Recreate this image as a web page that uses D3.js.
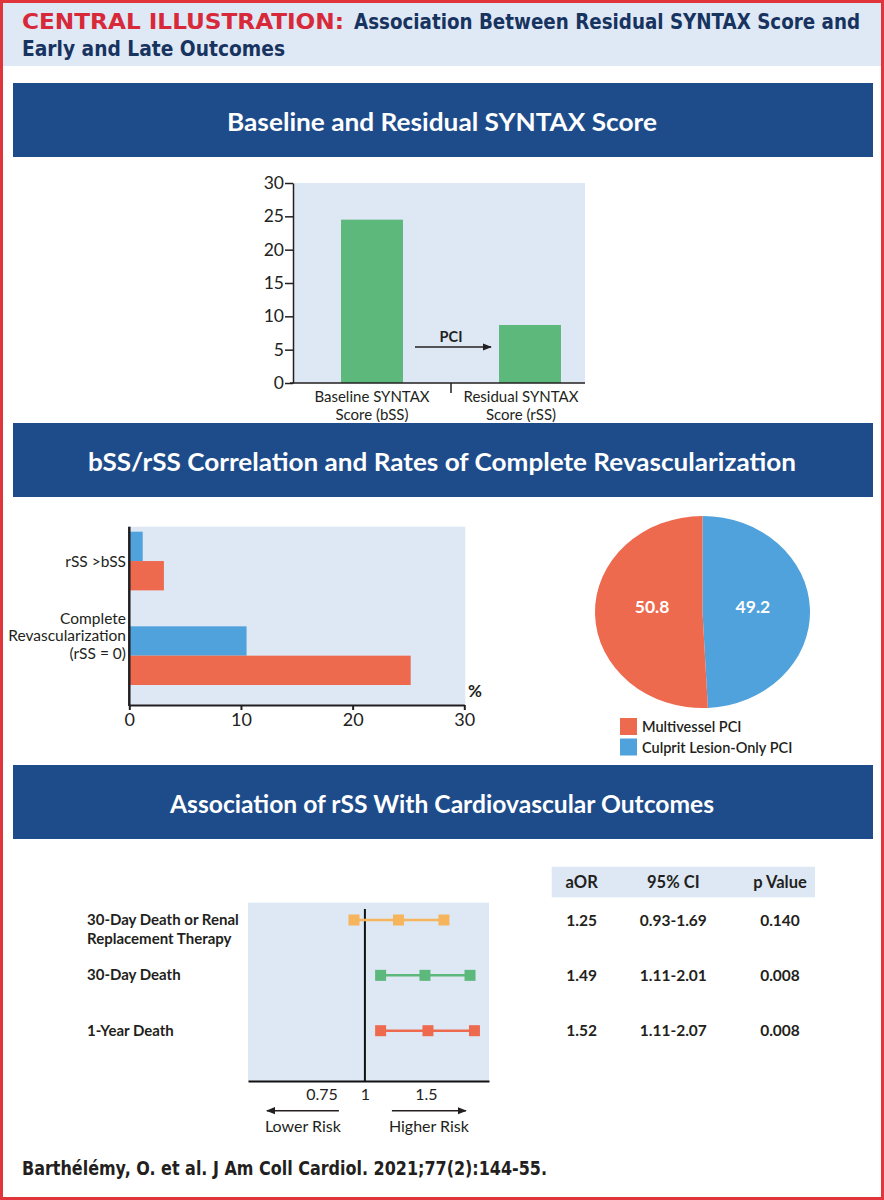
<!DOCTYPE html>
<html>
<head>
<meta charset="utf-8">
<script src="https://cdn.jsdelivr.net/npm/d3@7"></script>
<style>
  body { margin: 0; background: #fff; }
  svg { display: block; font-family: Lato, "Open Sans", sans-serif; }
  .axis text { font-family: Lato, sans-serif; fill: #222; }
</style>
</head>
<body>
<svg id="chart" width="884" height="1200"></svg>
<script>
// --- data ---
var scoreCats = ["Baseline SYNTAX Score (bSS)", "Residual SYNTAX Score (rSS)"];
var scoreLabels = [["Baseline SYNTAX", "Score (bSS)"], ["Residual SYNTAX", "Score (rSS)"]];
var scoreVals = [24.5, 8.7];
var scoreTicks = [0, 5, 10, 15, 20, 25, 30];

var revascCats = ["rSS >bSS", "Complete Revascularization (rSS = 0)"];
var revascLabels = [["rSS >bSS"], ["Complete", "Revascularization", "(rSS = 0)"]];
var culpritVals = [1.2, 10.5];
var multiVals = [3.1, 25.2];
var revascTicks = [0, 10, 20, 30];

var pieNames = ["Culprit Lesion-Only PCI", "Multivessel PCI"];
var pieVals = [49.2, 50.8];
var legendNames = ["Multivessel PCI", "Culprit Lesion-Only PCI"];

var outcomes = ["30-Day Death or Renal Replacement Therapy", "30-Day Death", "1-Year Death"];
var outcomeLabels = [["30-Day Death or Renal", "Replacement Therapy"], ["30-Day Death"], ["1-Year Death"]];
var aOR = [1.25, 1.49, 1.52];
var ciLow = [0.93, 1.11, 1.11];
var ciHigh = [1.69, 2.01, 2.07];
var ciText = ["0.93-1.69", "1.11-2.01", "1.11-2.07"];
var pVals = ["0.140", "0.008", "0.008"];
var forestTicks = [0.75, 1, 1.5];
var tableHeads = ["aOR", "95% CI", "p Value"];

var banners = ["Baseline and Residual SYNTAX Score",
    "bSS/rSS Correlation and Rates of Complete Revascularization",
    "Association of rSS With Cardiovascular Outcomes"];
var bannerW = [430, 708, 544];

// colours
var navy = "#1e4c8b", plotBg = "#dde8f4", green = "#5cb87b",
    blue = "#4fa2dc", red = "#ee6a4f", orange = "#f6b55c", ink = "#231f20";

var svg = d3.select("#chart");

// frame + header
svg.append("rect").attr("x", 1.5).attr("y", 1.5).attr("width", 881).attr("height", 1197)
    .attr("fill", "#fff").attr("stroke", "#e0353b").attr("stroke-width", 3);
svg.append("rect").attr("x", 3).attr("y", 3).attr("width", 878).attr("height", 63).attr("fill", "#dfe8f5");

var cond = '"DejaVu Sans Condensed", "Liberation Sans Narrow", sans-serif';
svg.append("text").attr("x", 22).attr("y", 28.5).attr("font-family", cond).attr("font-weight", "bold")
    .attr("font-size", 20.5).attr("fill", "#d8293a").attr("textLength", 322).attr("lengthAdjust", "spacingAndGlyphs")
    .text("CENTRAL ILLUSTRATION:");
svg.append("text").attr("x", 354).attr("y", 28.5).attr("font-family", cond).attr("font-weight", "bold")
    .attr("font-size", 20.5).attr("fill", "#17335f").attr("textLength", 506).attr("lengthAdjust", "spacingAndGlyphs")
    .text("Association Between Residual SYNTAX Score and");
svg.append("text").attr("x", 22).attr("y", 55.5).attr("font-family", cond).attr("font-weight", "bold")
    .attr("font-size", 20.5).attr("fill", "#17335f").attr("textLength", 263).attr("lengthAdjust", "spacingAndGlyphs")
    .text("Early and Late Outcomes");

// section banners
var bannerY = [83, 423, 765];
banners.forEach(function (t, i) {
    svg.append("rect").attr("x", 13).attr("y", bannerY[i]).attr("width", 860).attr("height", 74).attr("fill", navy);
    svg.append("text").attr("x", 442).attr("y", bannerY[i] + 48).attr("text-anchor", "middle")
        .attr("fill", "#fff").attr("font-weight", "bold").attr("font-size", 25)
        .attr("textLength", bannerW[i]).attr("lengthAdjust", "spacingAndGlyphs").text(t);
});

// --- panel 1: baseline vs residual score ---
var y1 = d3.scaleLinear().domain([0, 30]).range([383, 183]);
var x1 = d3.scaleBand().domain(scoreCats).range([293, 609]).paddingInner(0.608).paddingOuter(0.304);

svg.append("rect").attr("x", 293).attr("y", y1(30)).attr("width", 292).attr("height", y1(0) - y1(30)).attr("fill", plotBg);

svg.append("g").selectAll("rect").data(scoreVals).enter().append("rect")
    .attr("x", function (d, i) { return x1(scoreCats[i]); })
    .attr("y", function (d) { return y1(d); })
    .attr("width", x1.bandwidth())
    .attr("height", function (d) { return y1(0) - y1(d); })
    .attr("fill", green);

var ax1 = svg.append("g").attr("class", "axis").attr("transform", "translate(293,0)")
    .call(d3.axisLeft(y1).tickValues(scoreTicks).tickSize(8).tickSizeOuter(0).tickPadding(1));
ax1.selectAll("text").attr("font-size", 17.5);
ax1.selectAll("line, path").attr("stroke", ink).attr("stroke-width", 1.5);

var midX = x1(scoreCats[1]) - x1.step() * x1.paddingInner() / 2;
svg.append("line").attr("x1", 290).attr("x2", 585).attr("y1", y1(0)).attr("y2", y1(0)).attr("stroke", ink).attr("stroke-width", 1.5);
svg.append("line").attr("x1", midX).attr("x2", midX).attr("y1", y1(0)).attr("y2", y1(0) + 10).attr("stroke", ink).attr("stroke-width", 1.5);

scoreLabels.forEach(function (lines, i) {
    var t = svg.append("text").attr("text-anchor", "middle").attr("font-size", 15).attr("fill", ink);
    lines.forEach(function (l, j) {
        t.append("tspan").attr("x", x1(scoreCats[i]) + x1.bandwidth() / 2 - i * 9).attr("y", 402 + j * 17.5).text(l);
    });
});

// PCI arrow
svg.append("defs").append("marker").attr("id", "arr").attr("viewBox", "0 0 10 10").attr("refX", 9).attr("refY", 5)
    .attr("markerWidth", 6).attr("markerHeight", 6).attr("orient", "auto")
    .append("path").attr("d", "M0,1 L10,5 L0,9 z").attr("fill", ink);
svg.append("line").attr("x1", midX - 36).attr("x2", midX + 40).attr("y1", y1(5.4)).attr("y2", y1(5.4))
    .attr("stroke", ink).attr("stroke-width", 1.5).attr("marker-end", "url(#arr)");
svg.append("text").attr("x", midX).attr("y", y1(5.4) - 5).attr("text-anchor", "middle")
    .attr("font-weight", "bold").attr("font-size", 14.5).attr("fill", ink).text("PCI");

// --- panel 2: horizontal bars ---
var x2 = d3.scaleLinear().domain([0, 30]).range([129.3, 464.3]);
var y2 = d3.scaleBand().domain(revascCats).range([531.7, 685]).paddingInner(0.38);
var half = y2.bandwidth() / 2;

svg.append("rect").attr("x", x2(0)).attr("y", 526.7).attr("width", x2(30) - x2(0) + 1).attr("height", 705 - 526.7).attr("fill", plotBg);

svg.append("g").selectAll("rect").data(culpritVals).enter().append("rect")
    .attr("x", x2(0)).attr("y", function (d, i) { return y2(revascCats[i]); })
    .attr("width", function (d) { return x2(d) - x2(0); }).attr("height", half).attr("fill", blue);
svg.append("g").selectAll("rect").data(multiVals).enter().append("rect")
    .attr("x", x2(0)).attr("y", function (d, i) { return y2(revascCats[i]) + half; })
    .attr("width", function (d) { return x2(d) - x2(0); }).attr("height", half).attr("fill", red);

var ax2 = svg.append("g").attr("class", "axis").attr("transform", "translate(0,705)")
    .call(d3.axisBottom(x2).tickValues(revascTicks).tickSize(5).tickSizeOuter(0).tickPadding(3));
ax2.selectAll("text").attr("font-size", 18);
ax2.selectAll("line, path").attr("stroke", ink).attr("stroke-width", 2);
svg.append("line").attr("x1", x2(0)).attr("x2", x2(0)).attr("y1", 526.7).attr("y2", 706).attr("stroke", ink).attr("stroke-width", 2.5);
svg.append("text").attr("x", 468).attr("y", 697).attr("font-weight", "bold").attr("font-size", 17).attr("fill", ink).text("%");

svg.append("text").attr("x", 126).attr("y", y2(revascCats[0]) + half + 6)
    .attr("text-anchor", "end").attr("font-size", 15.5).attr("fill", ink).text(revascLabels[0][0]);
var rl1 = svg.append("text").attr("text-anchor", "end").attr("font-size", 15.5).attr("fill", ink);
revascLabels[1].forEach(function (l, j) {
    rl1.append("tspan").attr("x", 126).attr("y", y2(revascCats[1]) + half - 32 + j * 17.5).text(l);
});

// pie
var pie = d3.pie().sort(null).value(function (d) { return d; });
var arcs = pie(pieVals);
var R = 96, cx = 702.5, cy = 612, sx = 1.12;
var arc = d3.arc().innerRadius(0).outerRadius(R);
var pg = svg.append("g").attr("transform", "translate(" + cx + "," + cy + ") scale(" + sx + ",1)");
pg.selectAll("path").data(arcs).enter().append("path")
    .attr("d", arc).attr("fill", function (d, i) { return i === 0 ? blue : red; });
var lab = d3.arc().innerRadius(45).outerRadius(45);
svg.selectAll("text.pl").data(arcs).enter().append("text").attr("class", "pl")
    .attr("x", function (d) { return cx + lab.centroid(d)[0] * sx; })
    .attr("y", function (d) { return cy + 1; })
    .attr("text-anchor", "middle").attr("fill", "#fff").attr("font-weight", "bold").attr("font-size", 17.5)
    .text(function (d) { return d.data.toFixed(1); });

legendNames.forEach(function (n, i) {
    svg.append("rect").attr("x", 620).attr("y", 718 + i * 20.5).attr("width", 17).attr("height", 17)
        .attr("fill", i === 0 ? red : blue);
    svg.append("text").attr("x", 642).attr("y", 732 + i * 20.5).attr("font-size", 14.5).attr("font-weight", 600)
        .attr("fill", ink).text(n);
});

// --- panel 3: forest plot ---
var x3 = d3.scaleLog().domain([0.46, 2.28]).range([248, 489]);
var y3 = d3.scalePoint().domain(outcomes).range([920, 1030.7]);
var colors3 = [orange, green, red];

svg.append("rect").attr("x", 248).attr("y", 902.7).attr("width", 241).attr("height", 1081 - 902.7).attr("fill", plotBg);
svg.append("line").attr("x1", x3(1)).attr("x2", x3(1)).attr("y1", 909).attr("y2", 1081).attr("stroke", "#111").attr("stroke-width", 2);

var rows = svg.append("g").selectAll("g").data(outcomes).enter().append("g");
rows.append("line")
    .attr("x1", function (d, i) { return x3(ciLow[i]); })
    .attr("x2", function (d, i) { return x3(ciHigh[i]); })
    .attr("y1", function (d) { return y3(d); }).attr("y2", function (d) { return y3(d); })
    .attr("stroke", function (d, i) { return colors3[i]; }).attr("stroke-width", 2.5);
rows.each(function (d, i) {
    d3.select(this).selectAll("rect").data([ciLow[i], aOR[i], ciHigh[i]]).enter().append("rect")
        .attr("x", function (v) { return x3(v) - 5.5; }).attr("y", y3(d) - 5.5)
        .attr("width", 11).attr("height", 11).attr("fill", colors3[i]);
});

var ax3 = svg.append("g").attr("class", "axis").attr("transform", "translate(0,1081)")
    .call(d3.axisBottom(x3).tickValues(forestTicks).tickFormat(function (d) { return d; }).tickSize(0).tickSizeOuter(0).tickPadding(8));
ax3.selectAll("text").attr("font-size", 16);
ax3.select("path").attr("stroke", "#111").attr("stroke-width", 2);

svg.append("line").attr("x1", x3(1) - 26).attr("x2", x3(1) - 98).attr("y1", 1110.7).attr("y2", 1110.7)
    .attr("stroke", ink).attr("stroke-width", 1.5).attr("marker-end", "url(#arr)");
svg.append("line").attr("x1", x3(1) + 27).attr("x2", x3(1) + 101).attr("y1", 1110.7).attr("y2", 1110.7)
    .attr("stroke", ink).attr("stroke-width", 1.5).attr("marker-end", "url(#arr)");
svg.append("text").attr("x", x3(1) - 62).attr("y", 1132).attr("text-anchor", "middle").attr("font-size", 16).attr("fill", ink).text("Lower Risk");
svg.append("text").attr("x", x3(1) + 64).attr("y", 1132).attr("text-anchor", "middle").attr("font-size", 16).attr("fill", ink).text("Higher Risk");

outcomeLabels.forEach(function (lines, i) {
    var t = svg.append("text").attr("font-size", 15).attr("font-weight", "bold").attr("fill", ink);
    lines.forEach(function (l, j) {
        t.append("tspan").attr("x", 87).attr("y", y3(outcomes[i]) + 5 + j * 18.5).text(l);
    });
});

// table
var colX = [581.7, 673.3, 780];
svg.append("rect").attr("x", 551.7).attr("y", 866.7).attr("width", 263.3).attr("height", 30.6).attr("fill", plotBg);
tableHeads.forEach(function (h, j) {
    svg.append("text").attr("x", colX[j]).attr("y", 888).attr("text-anchor", "middle")
        .attr("font-size", 16.5).attr("font-weight", "bold").attr("fill", ink).text(h);
});
outcomes.forEach(function (o, i) {
    [aOR[i].toFixed(2), ciText[i], pVals[i]].forEach(function (v, j) {
        svg.append("text").attr("x", colX[j]).attr("y", y3(o) + 5.5).attr("text-anchor", "middle")
            .attr("font-size", 15.5).attr("font-weight", "bold").attr("fill", ink).text(v);
    });
});

// footer
svg.append("text").attr("x", 22).attr("y", 1175).attr("font-family", cond).attr("font-weight", "bold")
    .attr("font-size", 19).attr("fill", ink).attr("textLength", 525).attr("lengthAdjust", "spacingAndGlyphs")
    .text("Barthélémy, O. et al. J Am Coll Cardiol. 2021;77(2):144-55.");
</script>
</body>
</html>
